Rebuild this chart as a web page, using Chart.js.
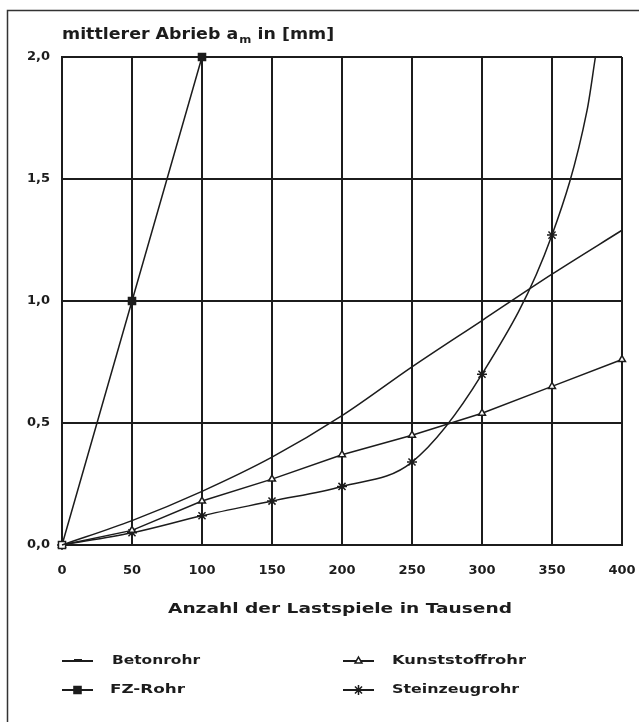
<!DOCTYPE html>
<html><head><meta charset="utf-8">
<script src="https://cdn.jsdelivr.net/npm/chart.js@4/dist/chart.umd.min.js"></script>
<style>html,body{margin:0;padding:0;background:#fff;}#wrap{width:639px;height:722px;position:relative;}canvas{display:block;}</style>
</head><body><div id="wrap"><canvas id="c" width="639" height="722"></canvas></div>
<script>
// ---- data ----
const xThousand = [0, 50, 100, 150, 200, 250, 300, 350, 400];
const betonrohr = [0, 0.10, 0.22, 0.36, 0.53, 0.73, 0.92, 1.11, 1.29];
const fzRohrX = [0, 50, 100];
const fzRohr = [0, 1.0, 2.0];
const kunststoffrohr = [0, 0.06, 0.18, 0.27, 0.37, 0.45, 0.54, 0.65, 0.76];
const steinzeugX = [0, 50, 100, 150, 200, 250, 300, 350, 375, 381];
const steinzeugrohr = [0, 0.05, 0.12, 0.18, 0.24, 0.34, 0.70, 1.27, 1.78, 2.0];
const xTicks = [0, 50, 100, 150, 200, 250, 300, 350, 400];
const yTicks = [0, 0.5, 1.0, 1.5, 2.0];
const yTickLabels = ['0,0', '0,5', '1,0', '1,5', '2,0'];
const seriesNames = ['Betonrohr', 'FZ-Rohr', 'Kunststoffrohr', 'Steinzeugrohr'];
const titleParts = ['mittlerer Abrieb a', 'm', ' in [mm]'];
const xTitle = 'Anzahl der Lastspiele in Tausend';

const INK = '#1c1c1c';
const FONT = '"DejaVu Sans", sans-serif';
const toPts = (xs, ys) => xs.map((x, i) => ({x: x, y: ys[i]}));

const styles = [
  {pointStyle: 'line', pointRadius: 0, fill: INK},
  {pointStyle: 'rect', pointRadius: 5, fill: INK},
  {pointStyle: 'triangle', pointRadius: 4, fill: '#fff'},
  {pointStyle: 'star', pointRadius: 5, fill: INK}
];

function fitText(ctx, text, x, y, w) {
  const m = ctx.measureText(text).width;
  ctx.save(); ctx.translate(x, y); ctx.scale(w / m, 1); ctx.fillText(text, 0, 0); ctx.restore();
}

const decor = {
  id: 'decor',
  beforeDraw(chart) {
    const ctx = chart.ctx;
    ctx.save();
    ctx.fillStyle = '#fff';
    ctx.fillRect(0, 0, chart.width, chart.height);
    ctx.restore();
  },
  afterDraw(chart) {
    const ctx = chart.ctx;
    ctx.save();
    // frame (left + top)
    ctx.strokeStyle = '#333'; ctx.lineWidth = 1.5;
    ctx.beginPath(); ctx.moveTo(7.5, 722); ctx.lineTo(7.5, 10.5); ctx.lineTo(639, 10.5); ctx.stroke();
    ctx.fillStyle = INK; ctx.textBaseline = 'alphabetic'; ctx.textAlign = 'left';
    // title with subscript
    const fMain = 'bold 15px ' + FONT, fSub = 'bold 10px ' + FONT;
    ctx.font = fMain; const w1 = ctx.measureText(titleParts[0]).width, w3 = ctx.measureText(titleParts[2]).width;
    ctx.font = fSub; const w2 = ctx.measureText(titleParts[1]).width;
    const sx = 271 / (w1 + w2 + w3);
    ctx.save(); ctx.translate(62, 39); ctx.scale(sx, 1);
    ctx.font = fMain; ctx.fillText(titleParts[0], 0, 0);
    ctx.font = fSub; ctx.fillText(titleParts[1], w1 + 1, 4);
    ctx.font = fMain; ctx.fillText(titleParts[2], w1 + w2 + 1, 0);
    ctx.restore();
    // x axis title
    ctx.font = 'bold 14px ' + FONT; ctx.textBaseline = 'middle';
    fitText(ctx, xTitle, 168, 609, 344);
    // legend
    const pos = [
      {x: 62, y: 661, tx: 112, tw: 88},
      {x: 62, y: 690, tx: 110, tw: 75},
      {x: 343, y: 661, tx: 392, tw: 134},
      {x: 343, y: 690, tx: 392, tw: 127}
    ];
    chart.data.datasets.forEach((ds, i) => {
      const p = pos[i];
      ctx.strokeStyle = INK; ctx.lineWidth = 2;
      ctx.beginPath(); ctx.moveTo(p.x, p.y); ctx.lineTo(p.x + 31, p.y); ctx.stroke();
      const st = styles[i];
      if (i === 0) {
        ctx.fillStyle = INK; ctx.fillRect(p.x + 12, p.y - 2, 8, 2);
      } else {
        ctx.fillStyle = st.fill; ctx.strokeStyle = INK; ctx.lineWidth = 1.5;
        Chart.helpers.drawPoint(ctx, {pointStyle: st.pointStyle, radius: st.pointRadius, rotation: 0, borderWidth: 1.5}, p.x + 15.5, p.y);
      }
      ctx.fillStyle = INK; ctx.font = 'bold 12px ' + FONT; ctx.textBaseline = 'middle';
      fitText(ctx, ds.label, p.tx, p.y, p.tw);
    });
    ctx.restore();
  }
};

const seriesX = [xThousand, fzRohrX, xThousand, steinzeugX];
const seriesY = [betonrohr, fzRohr, kunststoffrohr, steinzeugrohr];

new Chart(document.getElementById('c'), {
  type: 'line',
  data: {
    datasets: seriesNames.map((name, i) => ({
      label: name,
      data: toPts(seriesX[i], seriesY[i]),
      borderColor: INK,
      borderWidth: 1.5,
      pointStyle: styles[i].pointStyle,
      pointRadius: c => (c.raw && c.raw.x % 50 === 0) ? styles[i].pointRadius : 0,
      pointBackgroundColor: c => (c.raw && c.raw.x === 0) ? '#fff' : styles[i].fill,
      pointBorderColor: INK,
      pointBorderWidth: 1.5,
      cubicInterpolationMode: (i === 0 || i === 3) ? 'monotone' : 'default',
      clip: false
    }))
  },
  options: {
    responsive: false,
    animation: false,
    devicePixelRatio: 1,
    layout: {padding: {top: 57, bottom: 100, left: 0, right: 17}},
    plugins: {legend: {display: false}, title: {display: false}, tooltip: {enabled: false}},
    scales: {
      x: {
        type: 'linear', min: 0, max: 400,
        afterBuildTicks: s => { s.ticks = xTicks.map(v => ({value: v})); },
        afterFit: s => { s.height = 77; s.paddingLeft = 0; s.paddingRight = 0; },
        ticks: {callback: v => String(v), color: INK, font: {family: FONT, size: 13, weight: 'bold'}, padding: 18, maxRotation: 0, autoSkip: false},
        grid: {color: INK, lineWidth: 2, drawTicks: false},
        border: {color: INK, width: 2}
      },
      y: {
        type: 'linear', min: 0, max: 2,
        afterBuildTicks: s => { s.ticks = yTicks.map(v => ({value: v})); },
        afterFit: s => { s.width = 62; s.paddingTop = 0; s.paddingBottom = 0; },
        ticks: {callback: (v, i) => yTickLabels[i], color: INK, font: {family: FONT, size: 13, weight: 'bold'}, padding: 12, autoSkip: false},
        grid: {color: INK, lineWidth: 2, drawTicks: false},
        border: {color: INK, width: 2}
      }
    }
  },
  plugins: [decor]
});
</script></body></html>
